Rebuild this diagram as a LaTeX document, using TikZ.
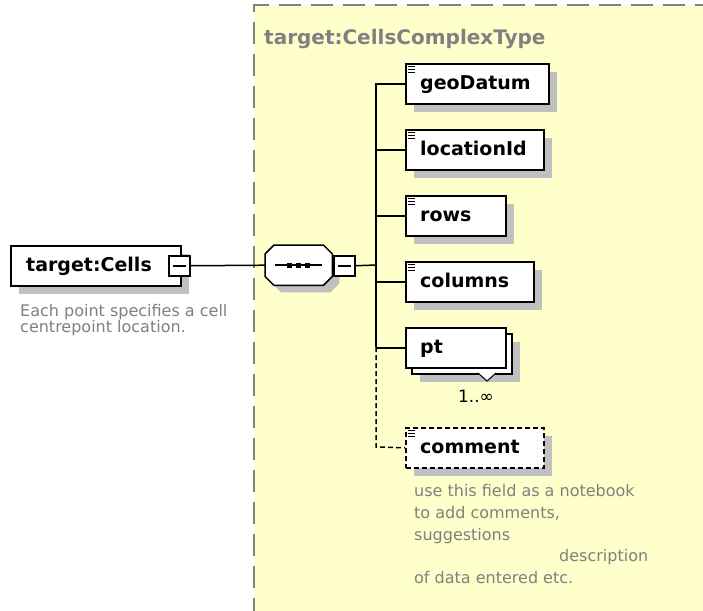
\documentclass[tikz,border=0pt]{standalone}
\usepackage{fontspec}
\setmainfont{DejaVu Sans}
\definecolor{panel}{RGB}{255,255,204}
\definecolor{panelline}{RGB}{128,128,128}
\definecolor{shadowgray}{RGB}{192,192,192}
\definecolor{note}{RGB}{128,128,128}
\newcommand\octagon[1]{%
  ([xshift=9pt]#1.north west) -- ([xshift=-9pt]#1.north east) -- ([yshift=-9pt]#1.north east)
  -- ([yshift=9pt]#1.south east) -- ([xshift=-9pt]#1.south east) -- ([xshift=9pt]#1.south west)
  -- ([yshift=9pt]#1.south west) -- ([yshift=-9pt]#1.north west) -- cycle}

\begin{document}
\begin{tikzpicture}[x=1pt,y=-1pt,
  box/.style={draw=black, line width=1.5pt, fill=white, minimum height=40pt,
    inner sep=0pt, anchor=north west,
    preaction={fill=shadowgray, transform canvas={xshift=8pt,yshift=-8pt}}},
  plainbox/.style={draw=black, line width=1.5pt, fill=white, minimum height=40pt,
    inner sep=0pt, anchor=north west},
  optbox/.style={box, dash pattern=on 5pt off 3pt},
  toggle/.style={draw=black, line width=1.5pt, fill=white, minimum width=21pt,
    minimum height=20pt, inner sep=0pt, anchor=north west},
  compbox/.style={minimum width=67pt, minimum height=40pt, inner sep=0pt, anchor=north west},
  elname/.style={anchor=base west, inner sep=0pt, font=\fontsize{19}{19}\selectfont\bfseries},
  notetext/.style={anchor=base west, inner sep=0pt, text=note, font=\fontsize{16}{16}\selectfont},
  wire/.style={draw=black, line width=1.5pt},
  optwire/.style={wire, dash pattern=on 5pt off 3pt},
]
\useasboundingbox (0,0) rectangle (703,610);
\fill[white] (0,0) rectangle (703,610);

% type panel
\fill[panel] (254,5) rectangle (710,620);
\draw[panelline, line width=2pt, dash pattern=on 22pt off 10pt] (254,620) -- (254,5) -- (710,5);
\node[anchor=base west, inner sep=0pt, text=note, font=\fontsize{20}{20}\selectfont\bfseries]
  (typename) at (264,45) {target:CellsComplexType};

% root element
\node[box, minimum width=170pt] (cells) at (10,245) {};
\node[elname] (cellsname) at (26,271) {target:Cells};
\node[toggle] (cellstog) at (168,255) {};
\draw[line width=1.5pt] ([xshift=5pt]cellstog.west) -- ([xshift=-5pt]cellstog.east);
\node[notetext] (cellsnoteA) at (20,316) {Each point specifies a cell};
\node[notetext] (cellsnoteB) at (20,332) {centrepoint location.};

% sequence compositor with its shadow
\node[compbox] (seqshadow) at (272,252) {};
\node[compbox] (seq) at (265,245) {};
\fill[shadowgray] \octagon{seqshadow};
\draw[line width=1.5pt, fill=white] \octagon{seq};
\draw[line width=1.5pt] ([xshift=10pt]seq.west) -- ([xshift=-10pt]seq.east);
\foreach \dx in {-9,0,9}
  \fill ([xshift=\dx pt]seq.center) ++(-2.5,-2.5) rectangle ++(5,5);
\node[toggle] (seqtog) at (333,255) {};
\draw[line width=1.5pt] ([xshift=5pt]seqtog.west) -- ([xshift=-5pt]seqtog.east);

\draw[wire] (cellstog.east) -- (seq.west);
\coordinate (bar) at (376,265);
\draw[wire] (seqtog.east) -- (bar);

% child elements
\node[box, minimum width=143pt] (geo) at (405,63) {};
\node[box, minimum width=138pt] (loc) at (405,129) {};
\node[box, minimum width=100pt] (rows) at (405,195) {};
\node[box, minimum width=128pt] (cols) at (405,261) {};
\node[box, minimum width=100pt] (ptback) at (411,333) {};
\node[plainbox, minimum width=100pt] (pt) at (405,327) {};
\node[optbox, minimum width=138pt] (comment) at (405,427) {};

\node[elname] (geoname) at (420,89) {geoDatum};
\node[elname] (locname) at (420,155) {locationId};
\node[elname] (rowsname) at (420,221) {rows};
\node[elname] (colsname) at (420,287) {columns};
\node[elname] (ptname) at (420,353) {pt};
\node[elname] (commentname) at (420,453) {comment};

% simple-content marks
\foreach \b in {geo,loc,rows,cols,comment}
  \foreach \dy in {3.5,6.5,9.5}
    \draw[line width=1pt] ([shift={(3,\dy)}]\b.north west) -- ++(7,0);

% repetition mark and cardinality
\coordinate (rep) at (487,373);
\fill[white] ([xshift=-9pt]rep) -- ([yshift=-8pt]rep) -- ([xshift=9pt]rep) -- cycle;
\draw[line width=1pt] ([xshift=-9pt]rep) -- ([yshift=-8pt]rep) -- ([xshift=9pt]rep);
\node[anchor=base, inner sep=0pt, font=\fontsize{17}{17}\selectfont] (card) at (476,402) {1..∞};

% connectors
\coordinate (bartop) at (376,83);
\coordinate (barpt) at (376,347);
\coordinate (barend) at (376,447);
\draw[wire] (bartop) -- (barpt);
\foreach \b in {geo,loc,rows,cols,pt}
  \draw[wire] (\b.west -| bar) -- (\b.west);
\draw[optwire] (barpt) -- (barend) -- (comment.west);

% annotation of comment
\node[notetext] (noteA) at (414,496) {use this field as a notebook};
\node[notetext] (noteB) at (414,518) {to add comments,};
\node[notetext] (noteC) at (414,540) {suggestions};
\node[notetext] (noteD) at (559,561) {description};
\node[notetext] (noteE) at (414,583) {of data entered etc.};
\end{tikzpicture}
\end{document}
